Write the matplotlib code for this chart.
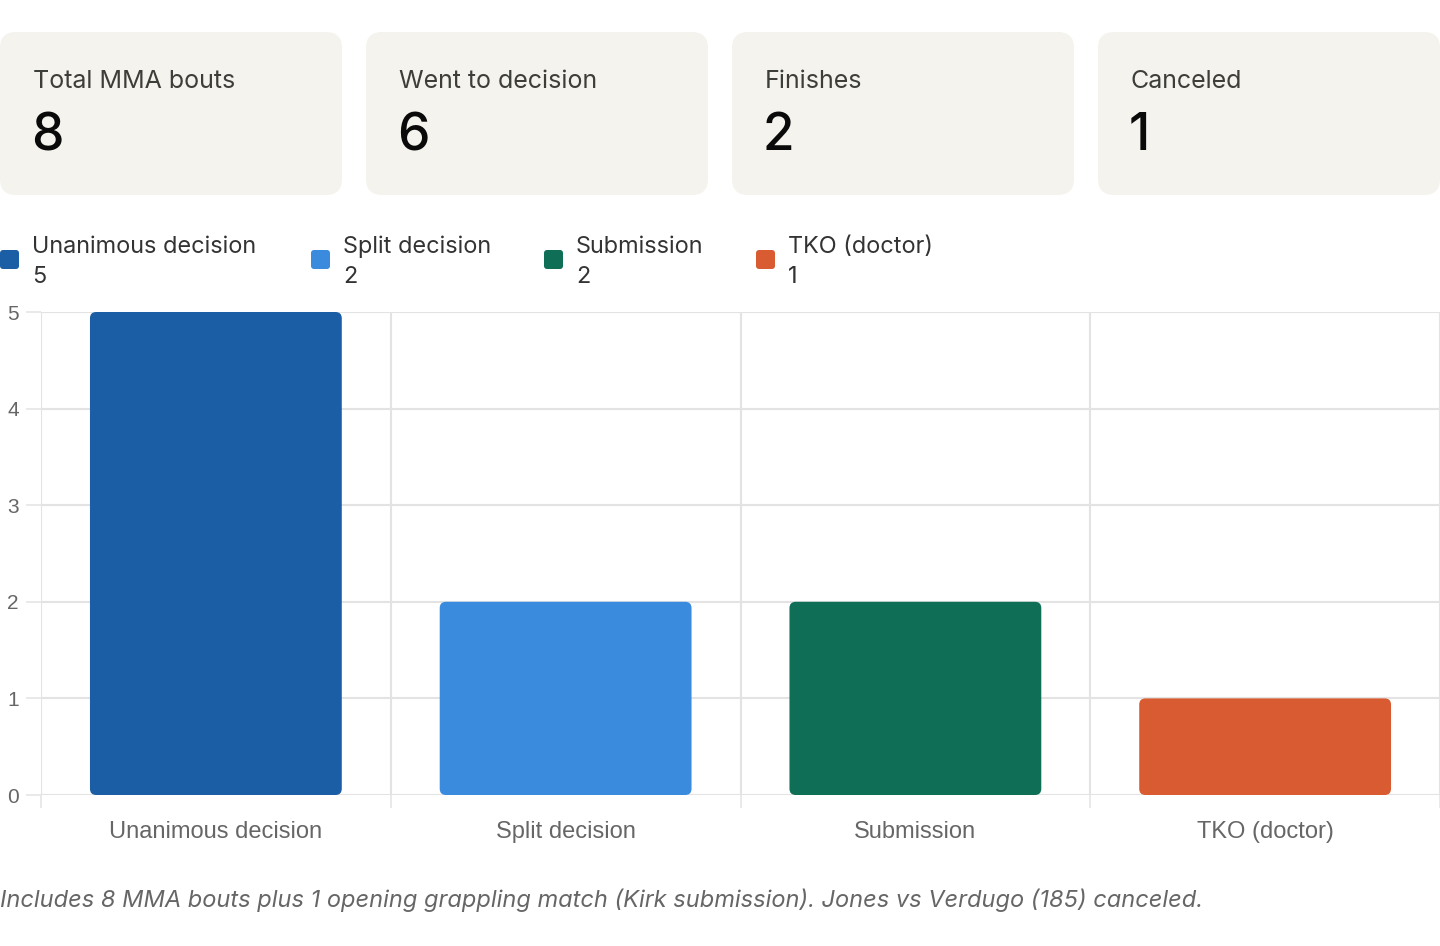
import matplotlib.pyplot as plt
from matplotlib.patches import FancyBboxPatch

# data
card_labels = ["Total MMA bouts", "Went to decision", "Finishes", "Canceled"]
card_values = [8, 6, 2, 1]

categories = ["Unanimous decision", "Split decision", "Submission", "TKO (doctor)"]
counts = [5, 2, 2, 1]
colors = ["#1B5EA5", "#3A8ADE", "#0F6E56", "#D95B31"]

caption = ("Includes 8 MMA bouts plus 1 opening grappling match (Kirk submission). "
           "Jones vs Verdugo (185) canceled.")

plt.rcParams["font.family"] = ["Inter", "DejaVu Sans"]

W, H = 1440, 946
fig = plt.figure(figsize=(W / 100, H / 100), dpi=100)

# overlay in pixel coords for cards + legend
ov = fig.add_axes([0, 0, 1, 1])
ov.set_xlim(0, W)
ov.set_ylim(H, 0)
ov.axis("off")

card_w, gap = 342, 24
for i, (lab, val) in enumerate(zip(card_labels, card_values)):
    x0 = i * (card_w + gap)
    ov.add_patch(FancyBboxPatch((x0, 32), card_w, 163,
                                boxstyle="round,pad=0,rounding_size=16",
                                fc="#F4F3EE", ec="none"))
    ov.text(x0 + 33, 81, lab, fontsize=18, color="#3D3D3A", va="center", ha="left")
    ov.text(x0 + 31, 137, str(val), fontsize=37, fontweight="medium",
            color="#0A0A0A", va="center", ha="left")

# legend
leg_x = [0, 311, 544, 756]
for x0, lab, val, c in zip(leg_x, categories, counts, colors):
    ov.add_patch(FancyBboxPatch((x0, 250), 19, 19,
                                boxstyle="round,pad=0,rounding_size=3",
                                fc=c, ec="none"))
    ov.text(x0 + 32, 247, lab, fontsize=16.9, color="#333333", va="center", ha="left")
    ov.text(x0 + 32, 277, str(val), fontsize=16.9, color="#333333", va="center", ha="left")

ov.text(0, 900, caption, fontsize=17, style="italic", color="#666666",
        va="center", ha="left")

# bar chart
ax = fig.add_axes([41 / W, (H - 795) / H, 1 - 41 / W, (795 - 312) / H])
xs = list(range(len(categories)))
bars = ax.bar(xs, counts, width=0.72, color=colors, zorder=3)
for b in bars:
    b.set_visible(False)
    ax.add_patch(FancyBboxPatch((b.get_x(), 0), b.get_width(), b.get_height(),
                                boxstyle="round,pad=0,rounding_size=0.018",
                                mutation_aspect=3.6,
                                fc=b.get_facecolor(), ec="none", zorder=3))

ax.set_xlim(-0.5, len(categories) - 0.5)
ax.set_ylim(0, 5)
ax.set_yticks(range(0, 6))
ax.set_xticks(xs)
ax.set_xticklabels(categories)
ax.set_xticks([i - 0.5 for i in range(len(categories) + 1)], minor=True)

for s in ax.spines.values():
    s.set_visible(False)
ax.grid(axis="y", color="#E3E3E3", linewidth=1.5, zorder=0)
ax.grid(axis="x", which="minor", color="#E3E3E3", linewidth=1.5, zorder=0)
ax.tick_params(axis="x", which="major", length=0, pad=19, labelsize=17,
               labelcolor="#666666")
ax.tick_params(axis="x", which="minor", length=9.5, width=1.1, color="#E3E3E3")
ax.tick_params(axis="y", length=11, width=1.1, color="#E3E3E3", pad=5,
               labelsize=15, labelcolor="#666666")
for t in ax.get_xticklabels() + ax.get_yticklabels():
    t.set_fontfamily(["Liberation Sans", "DejaVu Sans"])

fig.savefig("out.png", dpi=100)
plt.close(fig)
